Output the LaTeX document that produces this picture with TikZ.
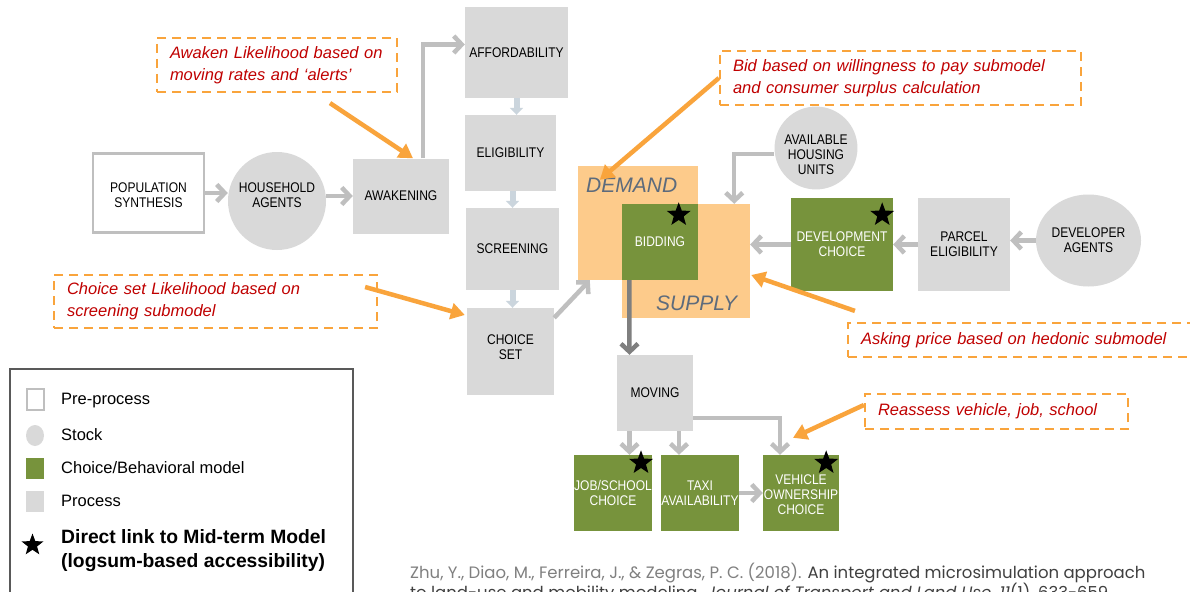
\documentclass[tikz,border=0pt]{standalone}
\usepackage{fontspec}
\setmainfont{Liberation Sans}
\newfontfamily\boxfont[FakeStretch=0.86]{Liberation Sans}
\newfontfamily\citefont{Poppins}
\usetikzlibrary{arrows.meta,shapes.geometric}
\definecolor{procgray}{HTML}{D9D9D9}
\definecolor{edgegray}{HTML}{BFBFBF}
\definecolor{choicegreen}{HTML}{77933C}
\definecolor{noteorange}{HTML}{F9A43C}
\definecolor{notered}{HTML}{C00000}
\definecolor{marketorange}{HTML}{FDCB8B}
\definecolor{markettext}{HTML}{5D6B7C}
\definecolor{flowblue}{HTML}{CBD5DD}
\definecolor{movegray}{HTML}{7F7F7F}
\definecolor{citegray}{HTML}{808080}
\definecolor{citedark}{HTML}{404040}
\definecolor{legendframe}{HTML}{595959}

\tikzset{
	process/.style={rectangle, fill=procgray, align=center, inner sep=0pt,
		font=\boxfont\fontsize{14}{15}\selectfont},
	preproc/.style={process, fill=white, draw=edgegray, line width=2.5pt},
	choice/.style={process, fill=choicegreen, text=white},
	stock/.style={process, circle},
	market/.style={rectangle, fill=marketorange, inner sep=0pt},
	marketlbl/.style={anchor=west, text=markettext, inner sep=0pt,
		font=\itshape\fontsize{21}{21}\selectfont},
	note/.style={rectangle, draw=noteorange, line width=2.2pt,
		dash pattern=on 9pt off 6pt, text=notered, align=left,
		inner xsep=13pt, inner ysep=0pt,
		font=\itshape\fontsize{16.5}{22}\selectfont},
	midstar/.style={star, star points=5, star point ratio=2.4, fill=black,
		inner sep=0pt, minimum size=25pt},
	conn/.style={draw=edgegray, line width=4.5pt,
		-{Straight Barb[length=8pt,width=17pt]}},
	flow/.style={draw=flowblue, line width=6pt,
		-{Triangle[length=7pt,width=13pt]}},
	notearrow/.style={draw=noteorange, line width=4.5pt,
		-{Triangle[length=14pt,width=16pt]}},
	legtext/.style={anchor=west, inner sep=0pt, font=\fontsize{16.5}{20}\selectfont}
}

\begin{document}
\begin{tikzpicture}[x=1pt,y=-1pt]
	\clip (0,0) rectangle (1190,591);
	\fill[white] (0,0) rectangle (1190,591);

	% household side
	\node[preproc, minimum width=111pt, minimum height=79pt] (pop) at (148.5,193) {\rule{0pt}{14pt}POPULATION\\SYNTHESIS};
	\node[stock, minimum size=98pt] (hh) at (277,201) {HOUSEHOLD\\AGENTS\rule[-12pt]{0pt}{12pt}};
	\node[process, minimum width=96pt, minimum height=75pt] (awake) at (401,196) {AWAKENING};
	\node[process, minimum width=103pt, minimum height=91pt] (afford) at (516.5,52.5) {AFFORDABILITY};
	\node[process, minimum width=91pt, minimum height=76pt] (elig) at (510.5,153) {ELIGIBILITY};
	\node[process, minimum width=93pt, minimum height=82pt] (screen) at (512.5,249) {SCREENING};
	\node[process, minimum width=87pt, minimum height=87pt] (cset) at (510.5,351.5) {CHOICE\\SET\rule[-8pt]{0pt}{8pt}};

	% market
	\node[market, minimum width=120pt, minimum height=114pt] (demand) at (638,223) {};
	\node[market, minimum width=128pt, minimum height=114pt] (supply) at (686,261) {};
	\node[choice, minimum width=76pt, minimum height=76pt] (bid) at (660,242) {BIDDING};
	\node[marketlbl] (demandlbl) at (586,185) {DEMAND};
	\node[marketlbl] (supplylbl) at (656,303) {SUPPLY};

	% developer side
	\node[stock, minimum size=82pt] (avail) at (816,148) {\rule{0pt}{24pt}AVAILABLE\\HOUSING\\UNITS};
	\node[choice, minimum width=102pt, minimum height=93pt] (devch) at (842,244.5) {DEVELOPMENT\\CHOICE};
	\node[process, minimum width=92pt, minimum height=93pt] (parcel) at (964,244.5) {PARCEL\\ELIGIBILITY};
	\node[process, ellipse, minimum width=105pt, minimum height=92pt] (devag) at (1088.5,240.5) {DEVELOPER\\AGENTS};

	% after moving
	\node[process, minimum width=76pt, minimum height=76pt] (moving) at (655,393) {MOVING};
	\node[choice, minimum width=76pt, minimum height=76pt] (job) at (613,493) {JOB/SCHOOL\\CHOICE};
	\node[choice, minimum width=76pt, minimum height=76pt] (taxi) at (700,493) {TAXI\\AVAILABILITY};
	\node[choice, minimum width=76pt, minimum height=76pt] (veh) at (801,493) {\rule{0pt}{14pt}VEHICLE\\OWNERSHIP\\CHOICE};

	\node[midstar] (bidstar) at ([xshift=-19.5pt,yshift=-11pt]bid.north east) {};
	\node[midstar] (devstar) at ([xshift=-11pt,yshift=-17pt]devch.north east) {};
	\node[midstar] (jobstar) at ([xshift=-11pt,yshift=-8pt]job.north east) {};
	\node[midstar] (vehstar) at ([xshift=-13pt,yshift=-8pt]veh.north east) {};

	% connectors
	\draw[conn] (pop.east) -- (pop.east -| hh.west);
	\draw[conn] (hh.east |- awake.west) -- (awake.west);
	\draw[conn] ([xshift=22pt]awake.north) |- ([yshift=8pt]afford.west);
	\draw[flow] (afford.south) -- (afford.south |- elig.north);
	\draw[flow] (screen.north |- elig.south) -- (screen.north);
	\draw[flow] (screen.south) -- (screen.south |- cset.north);
	\draw[conn] ([yshift=-10pt]cset.north east) -- ([xshift=12pt]demand.south west);
	\draw[conn] (devag.west) -- (devag.west -| parcel.east);
	\draw[conn] (parcel.west) -- (devch.east);
	\draw[conn] (devch.west) -- (devch.west -| supply.east);
	\draw[conn] ([yshift=-6pt]avail.west) -| ([xshift=-16pt]supply.north east);
	\draw[conn, draw=movegray] ([xshift=7.5pt]bid.south west) -- ([xshift=-25.5pt]moving.north);
	\draw[conn] ([xshift=-25.5pt]moving.south) -- ([xshift=16.5pt]job.north);
	\draw[conn] ([xshift=24pt]moving.south) -- ([xshift=-21pt]taxi.north);
	\draw[conn] ([yshift=-25pt]moving.east) -| ([xshift=-21pt]veh.north);
	\draw[conn] (taxi.east) -- (veh.west);

	% notes
	\node[note, text width=214pt, minimum height=54pt] (awakenote) at (277,65)
		{Awaken Likelihood based on\\moving rates and `alerts'};
	\node[note, text width=297pt, minimum height=53pt] (csetnote) at (215.5,301.5)
		{Choice set Likelihood based on\\screening submodel};
	\node[note, text width=335pt, minimum height=54pt] (bidnote) at (900.5,78)
		{Bid based on willingness to pay submodel\\and consumer surplus calculation};
	\node[note, text width=341pt, minimum height=34pt] (asknote) at (1031.5,340)
		{Asking price based on hedonic submodel};
	\node[note, text width=237pt, minimum height=35pt] (reassnote) at (996.5,411.5)
		{Reassess vehicle, job, school};

	\draw[notearrow] ([xshift=53pt,yshift=-10pt]awakenote.south) -- ([xshift=12pt]awake.north);
	\draw[notearrow] ([xshift=-13pt,yshift=14.5pt]csetnote.east) -- ([xshift=-2pt,yshift=36.5pt]cset.west);
	\draw[notearrow] (bidnote.west) -- ([xshift=22pt,yshift=-14pt]demand.north west);
	\draw[notearrow] ([xshift=8pt,yshift=11pt]asknote.north west) -- ([xshift=1pt,yshift=-14pt]supply.east);
	\draw[notearrow] ([yshift=6.5pt]reassnote.west) -- ([xshift=-8pt,yshift=17pt]veh.north);

	% legend
	\draw[legendframe, line width=2pt] (10,369) rectangle (353,600);
	\node[draw=edgegray, line width=2pt, minimum width=17pt, minimum height=21pt, inner sep=0pt] (lgpre) at (35.5,399.5) {};
	\node[ellipse, fill=procgray, minimum width=18pt, minimum height=21pt, inner sep=0pt] (lgstock) at (35,435.5) {};
	\node[fill=choicegreen, minimum width=18pt, minimum height=21pt, inner sep=0pt] (lgchoice) at (35,468.5) {};
	\node[fill=procgray, minimum width=18pt, minimum height=21pt, inner sep=0pt] (lgproc) at (35,501.5) {};
	\node[midstar, minimum size=23pt] (lgstar) at (32.5,545) {};
	\node[legtext] (lgpretxt) at (61,401) {Pre-process};
	\node[legtext] (lgstocktxt) at (61,435) {Stock};
	\node[legtext] (lgchoicetxt) at (61,468) {Choice/Behavioral model};
	\node[legtext] (lgproctxt) at (61,501) {Process};
	\node[legtext, align=left, font=\bfseries\fontsize{19.3}{24}\selectfont] (lgstartxt) at (61,551)
		{Direct link to Mid-term Model\\(logsum-based accessibility)};

	% reference
	\node[anchor=base west, inner sep=0pt, text=citedark, font=\citefont\fontsize{16.5}{19}\selectfont] (cite1) at (410,578)
		{\textcolor{citegray}{Zhu, Y., Diao, M., Ferreira, J., \& Zegras, P. C. (2018).} An integrated microsimulation approach};
	\node[anchor=base west, inner sep=0pt, text=citedark, font=\citefont\fontsize{16.5}{19}\selectfont] (cite2) at (410,598)
		{to land-use and mobility modeling. \textit{Journal of Transport and Land Use, 11}(1), 633-659.};
\end{tikzpicture}
\end{document}
